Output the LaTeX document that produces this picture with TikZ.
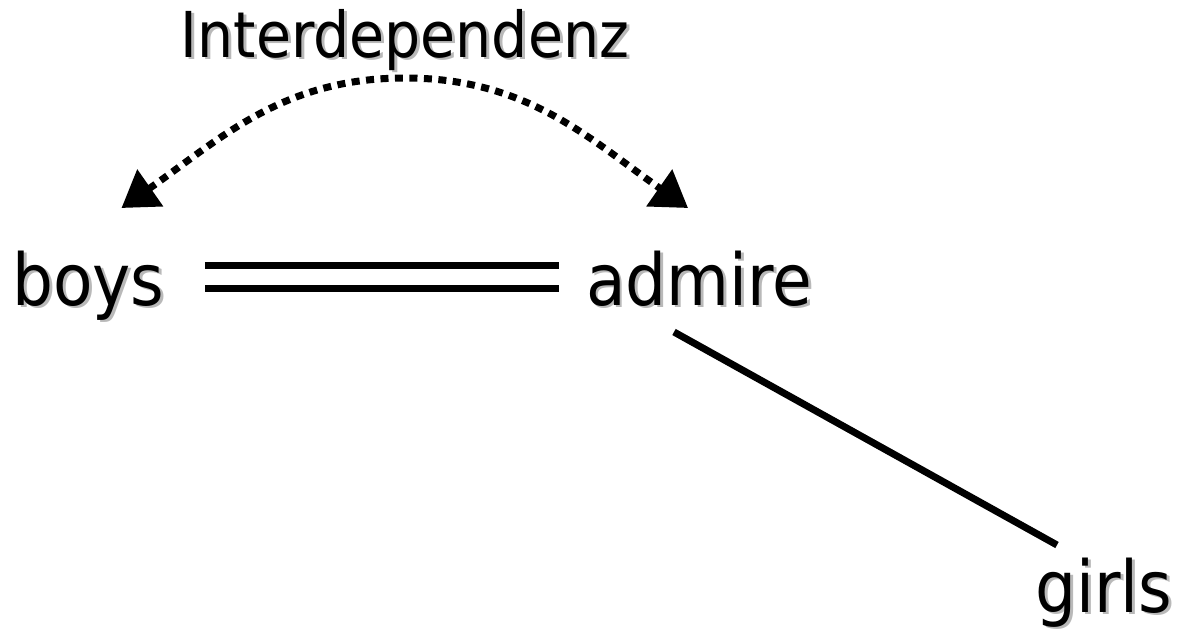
\documentclass[tikz,border=0pt]{standalone}
\usepackage{fontspec}
\setmainfont{DejaVu Sans Condensed}
\usetikzlibrary{arrows.meta,calc}
\usetikzlibrary{positioning}
\definecolor{shadowgray}{RGB}{185,185,185}
\newcommand{\shadowword}[1]{\makebox[0pt][l]{\hspace{2.1pt}\raisebox{-2.1pt}{\textcolor{shadowgray}{#1}}}#1}
\tikzstyle{word} = [inner sep=0pt, anchor=base, font=\fontsize{51}{60}\selectfont]
\tikzstyle{title} = [inner sep=0pt, anchor=base, font=\fontsize{45}{54}\selectfont]
\tikzstyle{link} = [line width=5pt]
\tikzstyle{agree} = [line width=5pt, double, double distance=10.7pt]
\tikzstyle{dep} = [line width=5pt, dash pattern=on 5.7pt off 4.6pt, {Triangle[length=25pt,width=31pt]}-{Triangle[length=25pt,width=31pt]}]

\begin{document}
\begin{tikzpicture}[x=0.025cm, y=-0.025cm]
\useasboundingbox (0,0) rectangle (1183,632);

\node (inter) [title] at (405,57) {\shadowword{Interdependenz}};
\node (boys) [word] at (88.5,305) {\shadowword{boys}};
\node (admire) [word] at (699,305) {\shadowword{admire}};
\node (girls) [word] at (1104,612) {\shadowword{girls}};

\draw [agree] ($(boys.base east)+(40,-28)$) -- ($(admire.base west)+(-27,-28)$);
\draw [link] ($(admire.base)+(-25,27)$) -- ($(girls.base)+(-47,-67)$);
\draw [dep] ($(boys.base)+(33,-97)$) to[out=35,in=180] ($(inter.base)+(0,21)$) to[out=0,in=145] ($(admire.base)+(-11,-97)$);
\end{tikzpicture}
\end{document}
